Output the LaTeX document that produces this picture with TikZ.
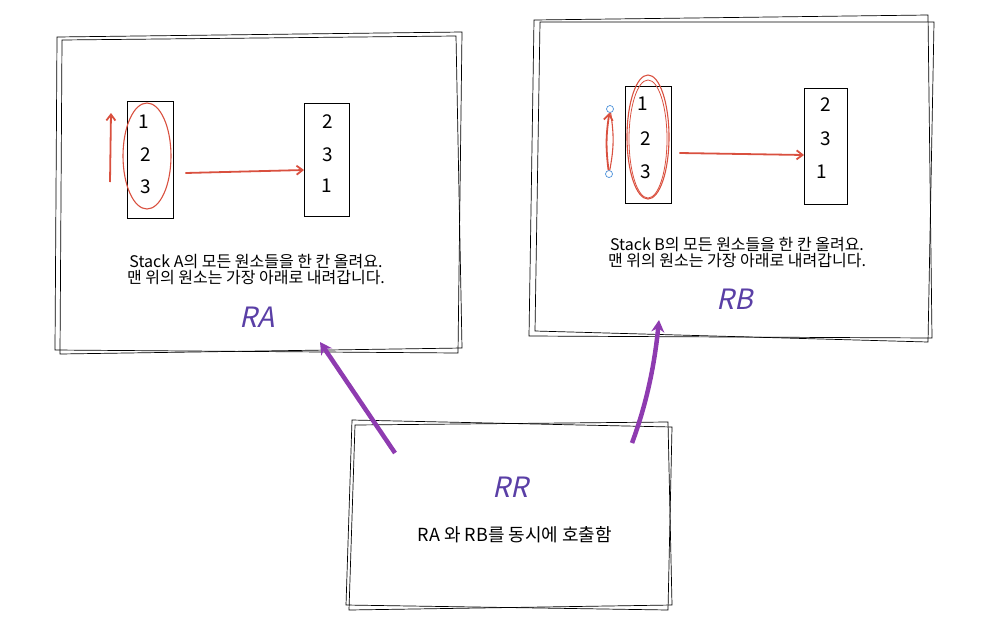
\documentclass[tikz,border=0pt]{standalone}
\usepackage{fontspec}
\setmainfont{Noto Sans CJK KR}
\newfontfamily\slantfont[FakeSlant=0.22]{Noto Sans CJK KR}
\usetikzlibrary{arrows.meta}
\definecolor{sred}{HTML}{D9503F}
\definecolor{spurple}{HTML}{8E3BB0}
\definecolor{tpurple}{HTML}{5A3FA6}
\definecolor{sblue}{HTML}{4A90D9}
\tikzset{
  sketch/.style={draw=black, line width=0.7pt},
  stackbox/.style={draw=black, line width=0.9pt, minimum width=46pt, minimum height=117pt, inner sep=0pt},
  num/.style={font=\fontsize{19}{19}\selectfont, inner sep=0pt},
  desc/.style={font=\fontsize{16}{16}\selectfont, align=center, inner sep=0pt},
  label/.style={font=\fontsize{28}{28}\selectfont\slantfont, text=tpurple, inner sep=0pt},
  redarrow/.style={draw=sred, line width=1.8pt, -{Straight Barb[length=6pt,width=9pt]}},
  purplearrow/.style={draw=spurple, line width=4.5pt, -{Stealth[length=12pt,width=13pt]}},
  areabox/.style={draw=none, inner sep=0pt}
}
\begin{document}
\begin{tikzpicture}[x=1pt,y=-1pt]
\useasboundingbox (0,0) rectangle (987,627);
% ---------- RA box ----------
\node[areabox, minimum width=404pt, minimum height=316pt] (ra) at (258,193) {};
\draw[sketch] (57,37) -- (462,32) -- (458,353) -- (55,350) -- cycle;
\draw[sketch] (62,40) -- (456,36) -- (462,348) -- (60,354) -- cycle;
% stacks A
\node[stackbox] (sa1) at (150,160) {};
\node[stackbox, minimum width=45pt, minimum height=113pt] (sa2) at (327,160) {};
\node[num] at (144,122) {1};
\node[num] at (146,155) {2};
\node[num] at (146,187) {3};
\node[num] at (328,122) {2};
\node[num] at (328,155) {3};
\node[num] at (327,186) {1};
\draw[sred, line width=1.1pt] (147,156) ellipse [x radius=24pt, y radius=53pt];
\coordinate (ua0) at (110,182);
\coordinate (ua1) at (111,113);
\draw[redarrow] (ua0) -- (ua1);
\draw[redarrow] (sa1.east) ++(12,13) coordinate (aa0) -- ([yshift=-10pt]sa2.west) ;
\node[desc] (ta) at (256,270) {Stack A의 모든 원소들을 한 칸 올려요.\\맨 위의 원소는 가장 아래로 내려갑니다.};
\node[label] (la) at (257,317) {RA};
% ---------- RB box ----------
\node[areabox, minimum width=400pt, minimum height=320pt] (rb) at (731,178) {};
\draw[sketch] (534,20) -- (928,15) -- (932,338) -- (529,336) -- cycle;
\draw[sketch] (540,22) -- (934,22) -- (928,342) -- (535,331) -- cycle;
% stacks B
\node[stackbox, minimum height=117pt] (sb1) at (648,145) {};
\node[stackbox, minimum width=43pt, minimum height=116pt] (sb2) at (826,146) {};
\node[num] at (643,104) {1};
\node[num] at (646,139) {2};
\node[num] at (646,172) {3};
\node[num] at (826,105) {2};
\node[num] at (826,139) {3};
\node[num] at (822,172) {1};
\draw[sred, line width=1.1pt] (648,137) ellipse [x radius=21pt, y radius=62pt];
\draw[sred, line width=0.8pt] (648,139) ellipse [x radius=19pt, y radius=59pt];
\node[circle, draw=sblue, line width=0.7pt, minimum size=7pt, inner sep=0pt] (bc1) at (610,109) {};
\node[circle, draw=sblue, line width=0.7pt, minimum size=7pt, inner sep=0pt] (bc2) at (609,174) {};
\draw[redarrow] (bc2) to[bend left=8] (bc1);
\draw[sred, line width=1.1pt] (bc2) to[bend right=10] (bc1);
\draw[redarrow] ([yshift=-8pt]sb1.east) ++(8,0) coordinate (ab0) -- ([yshift=-9pt]sb2.west);
\node[desc] (tb) at (737,253) {Stack B의 모든 원소들을 한 칸 올려요.\\맨 위의 원소는 가장 아래로 내려갑니다.};
\node[label] (lb) at (735,299) {RB};
% ---------- RR box ----------
\node[areabox, minimum width=320pt, minimum height=186pt] (rr) at (510,515) {};
\draw[sketch] (352,420) -- (672,427) -- (668,610) -- (346,605) -- cycle;
\draw[sketch] (355,425) -- (668,422) -- (672,605) -- (349,610) -- cycle;
\node[label] (lr) at (510,487) {RR};
\node[desc, font=\fontsize{18}{18}\selectfont] (tr) at (515,535) {RA 와 RB를 동시에 호출함};
% purple arrows
\coordinate (pa0) at (395,453);
\coordinate (pa1) at (320,342);
\draw[purplearrow] (pa0) -- (pa1);
\coordinate (pb0) at (632,443);
\coordinate (pb1) at (659,320);
\draw[purplearrow] (pb0) .. controls (648,400) and (655,360) .. (pb1);
\end{tikzpicture}
\end{document}
